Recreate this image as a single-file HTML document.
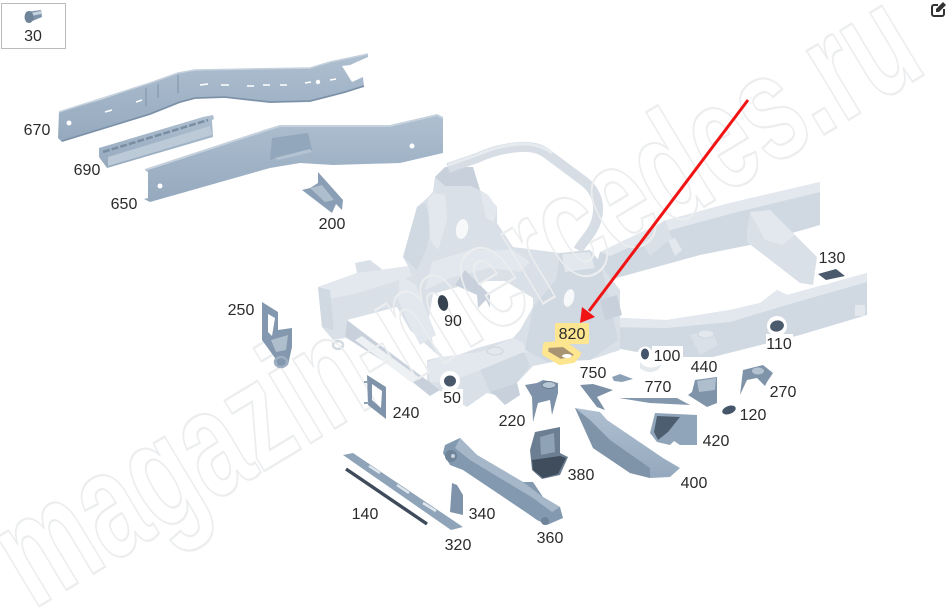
<!DOCTYPE html>
<html><head><meta charset="utf-8"><style>
html,body{margin:0;padding:0;background:#fff;width:948px;height:614px;overflow:hidden}
svg{display:block}
text{font-family:"Liberation Sans",sans-serif}
.l{font-size:16px;fill:#2b2b2b;text-anchor:middle}
.f1{fill:#dae0e7}.f2{fill:#d0d8e1}.f3{fill:#e3e8ee}.f4{fill:#c8d1db}
</style></head><body>
<svg width="948" height="614" viewBox="0 0 948 614" xmlns="http://www.w3.org/2000/svg">
<defs><linearGradient id="g" x1="0" y1="0" x2="0" y2="1"><stop offset="0" stop-color="#aebfd0"/><stop offset="1" stop-color="#95a9be"/></linearGradient></defs>
<rect width="948" height="614" fill="#fff"/>

<!-- frame: upper right rail -->
<polygon class="f2" points="600,252 667,220 730,203 820,182 820,225 750,245 700,255 620,277 590,285"/>
<polygon class="f3" points="600,252 667,220 730,203 820,182 820,192 730,214 667,231 610,256"/>
<polygon class="f1" points="640,240 665,220 672,238 650,256"/>
<polygon class="f3" points="668,240 675,238 682,250 675,256"/>
<!-- crossmember -->
<polygon class="f1" points="747,230 750,212 770,210 817,257 813,285 800,283 747,242"/>
<polygon class="f3" points="750,212 770,210 795,235 782,245 765,240"/>
<!-- lower right rail -->
<polygon class="f2" points="600,317 667,320 730,310 760,303 777,290 787,295 867,273 867,315 800,335 713,357 663,357 600,345"/>
<polygon class="f3" points="600,317 667,320 730,310 760,303 777,290 787,295 867,273 867,282 790,304 730,322 667,328 600,327"/>
<polygon class="f1" points="690,335 712,330 718,345 700,355"/>
<ellipse cx="706" cy="334" rx="8" ry="4" fill="#e3e8ee" stroke="#cfd7e0"/>
<rect x="855" y="305" width="10" height="11" class="f3"/>

<!-- tower and front silhouette -->
<polygon class="f1" points="318,287 357,273 355,263 370,260 383,270 408,266 403,257 417,207 425,200 433,192 435,177 445,167 473,167 480,190 487,195 497,207 497,223 513,247 560,253 565,258 590,250 596,260 620,290 620,320 620,350 590,360 563,360 533,366 517,383 520,395 505,405 495,395 487,393 467,407 427,383 427,360 440,357 410,330 397,307 347,320 345,338 333,340 322,327"/>
<!-- white hole -->
<polygon fill="#fff" points="433,294 457,287 487,281 505,281 533,298 533,307 520,330 513,338 477,348 445,360 433,343 428,323"/>
<!-- tower shading -->
<polygon class="f2" points="417,207 425,203 432,225 426,250 417,270 403,257"/>
<polygon class="f4" points="435,177 445,167 473,167 480,190 470,186 445,186"/>
<polygon class="f3" points="428,198 434,193 445,195 447,220 438,250 430,240"/>
<polygon class="f3" points="480,190 488,195 497,207 494,222 486,218"/>
<ellipse cx="462" cy="229" rx="6" ry="10" fill="#f7f8fa" transform="rotate(10 462 229)"/>
<polygon class="f3" points="432,262 470,250 513,250 530,262 520,272 490,268 450,278 425,290"/>
<polygon class="f3" points="318,287 357,273 408,266 412,276 358,293 325,300"/>
<polygon class="f2" points="318,287 330,290 334,330 322,327"/>
<polygon class="f3" points="400,275 416,285 436,335 420,345 407,320 398,300"/>
<polygon class="f4" points="345,337 347,320 360,330 440,390 430,396 400,372"/>
<polygon fill="#eef1f4" points="355,340 362,336 420,378 412,383"/>
<ellipse cx="338" cy="345" rx="5" ry="4" fill="none" stroke="#d2dae2" stroke-width="2.5"/>
<polygon class="f3" points="427,362 440,357 480,352 513,338 522,342 528,352 480,370 450,382 430,382"/>
<polygon class="f2" points="480,370 524,352 530,366 515,385 490,392"/>
<ellipse cx="495" cy="351" rx="8" ry="4" fill="#e3e8ee" stroke="#ccd4dd"/>
<polygon class="f4" points="490,392 517,383 520,395 505,405 495,395"/>
<polygon class="f4" points="465,270 490,295 490,308 486,300 478,308 477,295 455,285"/>
<!-- central column -->
<polygon class="f2" points="560,253 590,250 600,262 610,300 618,340 590,360 548,362 525,350 533,307 556,280"/>
<polygon class="f3" points="562,254 590,252 595,268 565,272"/>
<ellipse cx="569" cy="298" rx="5" ry="9" fill="#f7f8fa" transform="rotate(15 569 298)"/>
<polygon class="f4" points="600,300 617,295 622,315 605,320"/>
<!-- bar -->
<path d="M448 168 L477 158 C490 152 505 148 520 147 C535 146 543 150 550 156 L585 182 C597 192 600 205 597 218 C594 232 584 240 578 250" fill="none" stroke="#d6dde5" stroke-width="10"/>
<path d="M448 165 L477 155 C490 149 505 145 520 144 C535 143 545 148 552 153" fill="none" stroke="#e6ebf0" stroke-width="3"/>

<!-- watermark -->
<text transform="translate(33,610) rotate(-31) scale(1,1.5)" font-size="102" font-weight="bold" textLength="1046" lengthAdjust="spacingAndGlyphs" fill="none" stroke="#ebedef" stroke-width="2" vector-effect="non-scaling-stroke" style="vector-effect:non-scaling-stroke">magazin-mercedes.ru</text>

<!-- box 30 -->
<rect x="1.5" y="3.5" width="64" height="45" fill="#fff" stroke="#bbb"/>
<polygon fill="#7e93a9" points="26,12 41,10 42,17 30,22 26,22"/>
<polygon fill="#c6d2de" points="30,13 41,11 41,14 31,16"/>
<ellipse cx="29" cy="17" rx="4.5" ry="6" fill="#6f8498"/>

<!-- 670 -->
<polygon fill="url(#g)" points="59,112 100,100 150,83 178,73 195,70 250,69 310,68 330,62 368,54 368,57 350,65 342,66 352,82 363,77 364,87 345,93 330,97 310,102 270,103 225,98 195,99 180,103 150,115 62,142 58,138"/>
<path d="M59 112 L150 83 178 73 195 70 250 69 310 68 330 62 368 54" fill="none" stroke="#c5d1dd" stroke-width="1.5"/>
<path d="M62 141 L150 114 180 102 195 98 225 97 270 102 310 101 345 92 364 86" fill="none" stroke="#7b90a6" stroke-width="1.5"/>
<path d="M105 112l7-2M136 102l6-2M200 85l8-1M221 85l8 0M247 86l7 0M263 85l7 0M280 85l7 0M305 83l6-1M330 80l6-1" stroke="#fff" stroke-width="1.6"/>
<circle cx="69" cy="123" r="2.5" fill="#fff"/><circle cx="318" cy="82" r="2.2" fill="#fff"/>
<path d="M146 88v18M158 84v14M178 75v18" stroke="#8499ae" stroke-width="1.2"/>

<!-- 690 -->
<polygon fill="url(#g)" points="99,148 203,117 213,115 214,119 212,120 213,137 107,168 99,157"/>
<polygon fill="#bccad7" points="108,157 210,126 212,135 108,166"/>
<path d="M103 152 L208 120" stroke="#7a8ea3" stroke-width="2.5" stroke-dasharray="7 2"/>

<!-- 650 -->
<polygon fill="url(#g)" points="145,170 267,130 280,126 333,126 390,126 437,115 443,118 443,153 400,163 333,165 300,163 270,168 150,202 144,199 148,198 148,172"/>
<path d="M145 170 L267 130 280 126 390 126 437 115 443 118" fill="none" stroke="#c5d1dd" stroke-width="2"/>
<polygon fill="#92a7bb" points="272,138 308,133 312,150 276,158 270,160"/>
<polygon fill="#b3c3d2" points="275,158 310,149 312,152 278,160"/>
<circle cx="412" cy="146" r="2.5" fill="#fff"/><circle cx="160" cy="186" r="2.5" fill="#fff"/>

<!-- 200 -->
<polygon fill="#8a9fb5" points="318,172 343,200 342,210 336,204 332,213 302,190 310,188 318,183"/>
<polygon fill="#aebecd" points="310,188 322,185 334,200 325,202"/>

<!-- 250 -->
<path fill-rule="evenodd" fill="#8398ae" d="M262 302 L278 312 278 330 292 328 292 347 288 365 278 367 275 358 262 340Z M268 314 L275 318 272 336 268 332Z"/>
<polygon fill="#aebecd" points="271,340 288,335 286,350 276,352"/>
<ellipse cx="281" cy="362" rx="6" ry="5" fill="none" stroke="#9caec0" stroke-width="2.5"/>

<!-- 240 -->
<path fill-rule="evenodd" fill="#7f94aa" d="M367 375 L386 387 386 419 368 405Z M372 384 L382 391 381 408 372 400Z"/>
<path d="M364 382h5M364 403h5" stroke="#8ea2b6" stroke-width="2"/>

<!-- 220 -->
<polygon fill="#7e93a9" points="525,385 537,383 543,380 558,383 558,393 552,415 550,400 538,403 533,422 532,397"/>
<ellipse cx="549" cy="385" rx="7" ry="3.5" fill="#b7c6d4" stroke="#66798c"/>

<!-- 380 -->
<polygon fill="#6b7e92" points="535,432 560,427 560,453 568,457 560,475 542,479 532,470 530,450"/>
<polygon fill="#3f4d5d" points="532,460 560,456 566,458 558,474 543,478 533,470"/>
<polygon fill="#8fa3b7" points="540,437 554,433 555,452 541,455"/>

<!-- 400 -->
<polygon fill="url(#g)" points="575,408 600,412 607,420 663,458 680,468 670,477 650,478 630,473 593,448"/>
<polygon fill="#7f94a9" points="575,408 590,420 610,440 650,468 650,478 630,473 593,448"/>

<!-- 420 -->
<polygon fill="#90a5b9" points="655,413 697,415 697,445 680,445 674,441 670,445 657,442 650,433"/>
<polygon fill="#4d5e70" points="657,416 680,417 668,432 658,440 654,432"/>

<!-- 360 -->
<polygon fill="#8299af" points="445,445 460,438 477,455 523,482 533,482 543,497 560,507 563,518 547,525 537,520 527,513 463,470 450,465 443,453"/>
<polygon fill="#a5b7c8" points="460,438 477,455 523,482 543,497 560,507 552,512 533,498 470,460 455,448"/>
<circle cx="451" cy="456" r="6" fill="#6f8499"/><circle cx="453" cy="456" r="2" fill="#c5d1dd"/>
<circle cx="545" cy="521" r="4" fill="#6f8499"/>

<!-- 320 -->
<polygon fill="#8fa4b9" points="343,455 353,453 463,527 451,530"/>
<path d="M369 466l11 7M397 485l12 8M423 503l13 8" stroke="#dfe6ed" stroke-width="2.5"/>
<!-- 140 strip -->
<path d="M346 469 L427 524" stroke="#3e4b5a" stroke-width="3.4"/>
<!-- 340 -->
<polygon fill="#7f94aa" points="452,483 457,485 463,495 463,515 450,512"/>

<!-- 750 -->
<polygon fill="#7b90a6" points="580,385 593,384 613,390 597,397 605,410 597,407"/>
<polygon fill="#8ca1b6" points="612,377 620,374 633,379 622,382 614,381"/>
<!-- 770 -->
<polygon fill="#8398ad" points="619,398 677,398 690,405 650,403"/>
<!-- 440 -->
<polygon fill="#7f94a9" points="695,380 717,377 717,403 707,407 688,395 692,392"/>
<polygon fill="#aebecd" points="697,381 716,378 715,390 699,392"/>
<!-- 270 -->
<polygon fill="#7f94a9" points="743,370 763,365 773,373 767,382 765,386 757,378 747,380 740,395"/>
<ellipse cx="758" cy="371" rx="6" ry="3.5" fill="#b3c2d0"/>
<!-- 120 -->
<ellipse cx="729" cy="410" rx="7" ry="4" fill="#46566a" transform="rotate(-20 729 410)"/>

<!-- halos -->
<circle cx="450" cy="381" r="10" fill="#fff"/><ellipse cx="450" cy="381" rx="6" ry="5.5" fill="#48586a"/>
<rect x="442" y="389" width="21" height="18" fill="#fff"/>
<ellipse cx="443" cy="303" rx="5" ry="8" fill="#36424f" transform="rotate(-12 443 303)"/>
<circle cx="645" cy="354" r="7.5" fill="#fff"/><ellipse cx="645" cy="354" rx="4" ry="5.5" fill="#44546a"/>
<path d="M640 362 Q648 372 662 364 L658 370 Q648 375 640 368Z" fill="#e4e9ee"/>
<rect x="652" y="346" width="31" height="18" fill="#fff"/>
<circle cx="777" cy="326" r="10" fill="#fff"/><ellipse cx="777" cy="326" rx="7" ry="5.5" fill="#4a5b6e" transform="rotate(-15 777 326)"/>
<rect x="766" y="334" width="27" height="18" fill="#fff"/>
<polygon fill="#fff" points="814,271 838,265 850,276 825,285"/>
<polygon fill="#4a5a6c" points="818,274 836,269 845,276 826,280"/>
<rect x="817" y="248" width="30" height="17" fill="#fff"/>

<!-- 820 highlight -->
<rect x="555" y="323" width="34" height="21" rx="2" fill="#fde68f"/>
<path d="M546 345 L564 344 578 354 573 360 560 362 545 353Z" fill="#a89472" stroke="#fde68f" stroke-width="6" stroke-linejoin="round"/>
<ellipse cx="567" cy="356" rx="5" ry="2" fill="#fff"/>

<!-- arrow -->
<line x1="748" y1="100" x2="589" y2="311" stroke="#f01414" stroke-width="3"/>
<polygon fill="#f01414" points="580,323 582,307 595,317"/>

<!-- labels -->
<text class="l" x="33" y="41">30</text>
<text class="l" x="37" y="135">670</text>
<text class="l" x="87" y="175">690</text>
<text class="l" x="124" y="209">650</text>
<text class="l" x="332" y="229">200</text>
<text class="l" x="241" y="315">250</text>
<text class="l" x="406" y="418">240</text>
<text class="l" x="453" y="326">90</text>
<text class="l" x="452" y="403">50</text>
<text class="l" x="572" y="339">820</text>
<text class="l" x="667" y="361">100</text>
<text class="l" x="779" y="349">110</text>
<text class="l" x="832" y="263">130</text>
<text class="l" x="704" y="372">440</text>
<text class="l" x="593" y="378">750</text>
<text class="l" x="658" y="392">770</text>
<text class="l" x="783" y="397">270</text>
<text class="l" x="753" y="420">120</text>
<text class="l" x="716" y="446">420</text>
<text class="l" x="512" y="426">220</text>
<text class="l" x="581" y="480">380</text>
<text class="l" x="694" y="488">400</text>
<text class="l" x="365" y="519">140</text>
<text class="l" x="482" y="519">340</text>
<text class="l" x="458" y="550">320</text>
<text class="l" x="550" y="543">360</text>

<!-- edit icon -->
<path d="M938 5h-4a2 2 0 0 0-2 2v7a2 2 0 0 0 2 2h8a2 2 0 0 0 2-2v-5" fill="none" stroke="#333" stroke-width="2"/>
<polygon fill="#333" points="936,9 943,2 946,5 939,12 936,12"/>
</svg>
</body></html>
